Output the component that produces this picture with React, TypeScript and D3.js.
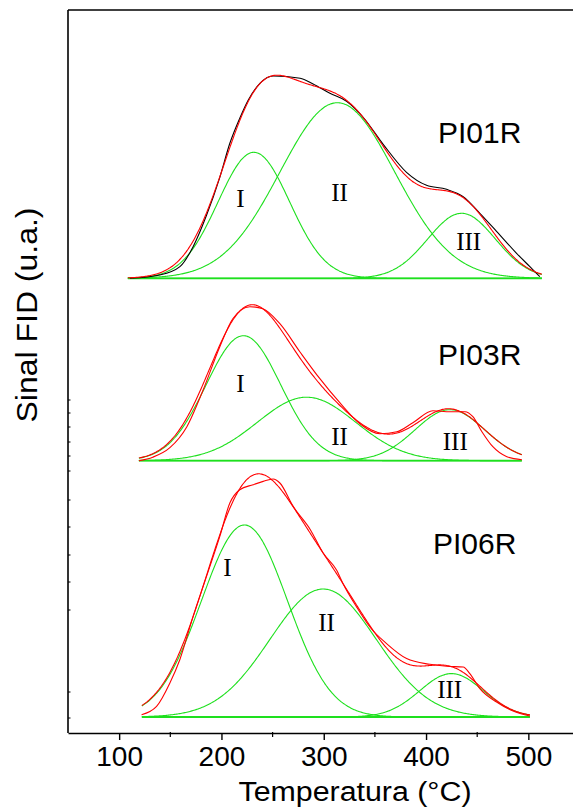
import React, { useEffect, useRef } from 'react';
import * as d3 from 'd3';

// ---------- data ----------
const panelNames = ['PI01R', 'PI03R', 'PI06R'];
const panelBaselines = [454.7, 272.3, 16];
const panelRanges: [number, number][] = [[108.5, 513.2], [119.3, 493.6], [122.2, 501.5]];
const peakNames = ['I', 'II', 'III'];

// Gaussian deconvolution components: [centre °C, height (u.a.), sigma °C]
const pi01rPeaks = [[231.7, 126, 35], [313.3, 175.6, 56], [434.7, 65, 33]];
const pi03rPeaks = [[221.5, 125, 36.5], [283.2, 63.5, 48], [423.3, 51, 34]];
const pi06rPeaks = [[222.5, 192, 42], [299.4, 128, 52], [424.9, 43.4, 31]];

// experimental signal: [temperature °C, signal above baseline (u.a.)]
const pi01rExp = [
  [110.5, 0], [139.8, 3.3], [159.4, 11.6], [172.3, 31.6], [185.4, 63], [198.4, 101],
  [208.2, 135], [217.9, 160], [226.1, 178], [237.6, 195], [250.5, 202.3], [276.9, 200],
  [289.6, 194.3], [306.0, 185], [322.3, 177], [338.5, 161], [358.1, 134], [380.9, 106],
  [400.5, 93], [420.0, 89], [436.3, 81.6], [452.6, 65], [468.9, 47], [488.5, 25],
  [501.5, 11.6], [511.2, 1.6],
];
const pi03rExp = [
  [119.3, 0], [132.9, 3.5], [149.6, 13], [166.2, 34], [181.8, 70], [198.4, 114], [211.1, 142],
  [227.8, 154], [240.5, 152], [257.1, 137], [276.6, 109], [296.2, 82], [315.7, 58],
  [335.3, 37], [354.8, 27], [371.5, 29], [387.1, 38], [406.7, 50], [423.3, 49], [438.0, 49],
  [445.8, 44], [454.6, 29], [465.3, 14], [479.0, 4], [493.7, 1],
];
const pi06rExp = [
  [121.9, 2.3], [136.6, 10.6], [149.6, 34], [159.3, 57.3], [172.3, 100.6], [185.4, 140.6],
  [198.4, 180.6], [208.2, 214], [217.9, 227.3], [231.0, 232.3], [240.8, 235.6], [250.5, 238],
  [257.1, 234], [270.1, 210.6], [286.9, 187.3], [299.4, 164], [312.5, 147], [319.0, 133],
  [332.1, 110], [345.1, 90], [361.4, 73.4], [381.0, 58.4], [403.7, 52.7], [420.0, 50.7],
  [436.3, 50], [442.8, 43.4], [452.6, 28.4], [468.9, 15], [485.1, 6], [501.5, 1],
];

const xTicks = [100, 200, 300, 400, 500];
const xMinorTicks = [150, 250, 350, 450];
const yMinorTicks = [333, 320, 306, 291, 277, 262, 233, 206, 178, 151, 123, 41, 15];

// ---------- layout ----------
const W = 573, H = 808;
const LEFT = 68, TOP = 10, BOTTOM = 733;
const GREEN = '#1ee01e';
const RED = '#ff0000';

const peakSets = [pi01rPeaks, pi03rPeaks, pi06rPeaks];
const expSets = [pi01rExp, pi03rExp, pi06rExp];
const nameLabelPos = [[438, 143], [438, 365], [433, 554]];
const peakLabelPos = [
  [[240.5, 207], [339.5, 201], [468.7, 250]],
  [[240.5, 391.7], [339.5, 445], [455.3, 450]],
  [[227.5, 576], [326.5, 630.7], [449.7, 698.3]],
];

const x = d3.scaleLinear().domain([50, 550]).range([LEFT, LEFT + 500 * 1.023]);
const y = d3.scaleLinear().domain([0, 723]).range([BOTTOM, TOP]);

const gauss = (t: number, p: number[]) => p[1] * Math.exp(-((t - p[0]) ** 2) / (2 * p[2] * p[2]));

export default function App() {
  const xAxisRef = useRef<SVGGElement>(null);

  useEffect(() => {
    const g = d3.select(xAxisRef.current);
    g.selectAll('*').remove();
    g.call(
      d3.axisBottom(x).tickValues(xTicks).tickSize(7).tickSizeOuter(0).tickPadding(6).tickFormat(d3.format('d'))
    );
    g.select('.domain').attr('stroke', '#000').attr('stroke-width', 1.6);
    g.selectAll('.tick line').attr('stroke', '#000').attr('stroke-width', 1.4);
    g.selectAll('.tick text')
      .attr('font-family', '"Liberation Sans", Arial, sans-serif')
      .attr('font-size', 28)
      .attr('fill', '#000');
    g.append('g')
      .selectAll('line')
      .data(xMinorTicks)
      .join('line')
      .attr('x1', (d) => x(d))
      .attr('x2', (d) => x(d))
      .attr('y1', -1)
      .attr('y2', 4)
      .attr('stroke', '#000')
      .attr('stroke-width', 1.2);
  }, []);

  const line = d3
    .line<number[]>()
    .x((d) => x(d[0]))
    .y((d) => y(d[1]))
    .curve(d3.curveMonotoneX);

  return (
    <svg
      width={W}
      height={H}
      style={{ position: 'absolute', left: 0, top: 0, background: '#fff' }}
    >
      <rect x={0} y={0} width={W} height={H} fill="#fff" />
      {panelNames.map((name, i) => {
        const base = panelBaselines[i];
        const [t0, t1] = panelRanges[i];
        const grid = d3.range(t0, t1, 1).concat([t1]);
        const peaks = peakSets[i];
        const comps = peaks.map((p) => grid.map((t) => [t, base + gauss(t, p)]));
        const fit = grid.map((t) => [t, base + d3.sum(peaks, (p) => gauss(t, p))]);
        const exp = expSets[i].map((d) => [d[0], base + d[1]]);
        const expColor = i === 0 ? '#000' : RED;
        return (
          <g key={name}>
            <line x1={x(t0)} x2={x(t1)} y1={y(base)} y2={y(base)} stroke={GREEN} strokeWidth={1.8} />
            {comps.map((c, k) => (
              <path key={k} d={line(c) || ''} fill="none" stroke={GREEN} strokeWidth={1.1} />
            ))}
            <path d={line(exp) || ''} fill="none" stroke={expColor} strokeWidth={1.1} />
            <path d={line(fit) || ''} fill="none" stroke={RED} strokeWidth={1.1} />
            <text
              x={nameLabelPos[i][0]}
              y={nameLabelPos[i][1]}
              fontFamily='"Liberation Sans", Arial, sans-serif'
              fontSize={30}
              fill="#000"
            >
              {name}
            </text>
            {peakNames.map((pn, k) => (
              <text
                key={pn}
                x={peakLabelPos[i][k][0]}
                y={peakLabelPos[i][k][1]}
                textAnchor="middle"
                fontFamily='"Liberation Serif", "Times New Roman", serif'
                fontSize={25}
                fill="#000"
              >
                {pn}
              </text>
            ))}
          </g>
        );
      })}

      {/* frame */}
      <line x1={LEFT} x2={W + 10} y1={TOP} y2={TOP} stroke="#000" strokeWidth={1.6} />
      <line x1={LEFT} x2={LEFT} y1={TOP} y2={BOTTOM} stroke="#000" strokeWidth={1.6} />
      {yMinorTicks.map((v) => (
        <line key={v} x1={LEFT} x2={LEFT + 2.5} y1={y(v)} y2={y(v)} stroke="#000" strokeWidth={1} />
      ))}
      <g ref={xAxisRef} transform={`translate(0,${BOTTOM})`} />

      {/* axis titles */}
      <text
        x={355}
        y={801}
        textAnchor="middle"
        fontFamily='"Liberation Sans", Arial, sans-serif'
        fontSize={27}
        textLength={233}
        lengthAdjust="spacingAndGlyphs"
        fill="#000"
      >
        Temperatura (°C)
      </text>
      <text
        transform={`translate(37,315) rotate(-90)`}
        textAnchor="middle"
        fontFamily='"Liberation Sans", Arial, sans-serif'
        fontSize={30}
        textLength={215}
        lengthAdjust="spacingAndGlyphs"
        fill="#000"
      >
        Sinal FID (u.a.)
      </text>
    </svg>
  );
}
